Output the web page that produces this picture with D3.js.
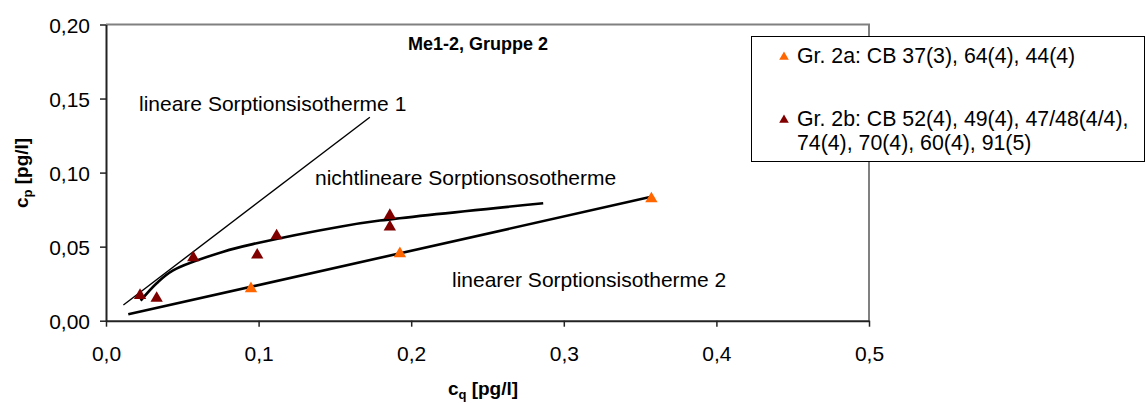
<!DOCTYPE html>
<html><head><meta charset="utf-8">
<script src="https://cdn.jsdelivr.net/npm/d3@7"></script>
<style>
body{margin:0;background:#fff;}
text{font-family:Arial,"Liberation Sans",sans-serif;}
</style></head>
<body><svg id="c" width="1146" height="403"></svg>
<script>
// ---- data ----
const xTicks = [0, 0.1, 0.2, 0.3, 0.4, 0.5];
const yTicks = [0, 0.05, 0.10, 0.15, 0.20];
const grp2aX = [0.095, 0.1926, 0.3574];
const grp2aY = [0.0223, 0.046, 0.083];
const grp2bX = [0.0223, 0.0332, 0.0572, 0.0991, 0.1118, 0.186, 0.186];
const grp2bY = [0.0178, 0.0158, 0.0432, 0.045, 0.058, 0.0718, 0.064];
const lin1X = [0.0114, 0.1729];
const lin1Y = [0.0106, 0.1374];
const lin2X = [0.0146, 0.358];
const lin2Y = [0.0043, 0.0838];
const nonlinX = [0.0227, 0.0332, 0.044, 0.0769, 0.0987, 0.1533, 0.1795, 0.2865];
const nonlinY = [0.0135, 0.0253, 0.034, 0.0466, 0.0523, 0.0635, 0.0676, 0.0793];
const legendLabels = [["Gr. 2a: CB 37(3), 64(4), 44(4)"], ["Gr. 2b: CB 52(4), 49(4), 47/48(4/4),", "74(4), 70(4), 60(4), 91(5)"]];
const colors = ["#FF6600", "#800000"];

const svg = d3.select("#c");
const x = d3.scaleLinear().domain([0, 0.5]).range([106, 869]);
const y = d3.scaleLinear().domain([0, 0.2]).range([320.7, 24.5]);
const fmtX = d => d.toFixed(1).replace(".", ",");
const fmtY = d => d.toFixed(2).replace(".", ",");

// plot border (top/right gray)
svg.append("path").attr("d", `M${x(0)},${y(0.2)}H${x(0.5)}V${y(0)}`)
  .attr("fill", "none").attr("stroke", "#808080").attr("stroke-width", 2);

// axes
const gx = svg.append("g").attr("transform", `translate(0,${y(0)})`)
  .call(d3.axisBottom(x).tickValues(xTicks).tickFormat(fmtX).tickSize(6).tickPadding(19).tickSizeOuter(0));
const gy = svg.append("g").attr("transform", `translate(${x(0)},0)`)
  .call(d3.axisLeft(y).tickValues(yTicks).tickFormat(fmtY).tickSize(6).tickPadding(10).tickSizeOuter(0));
[gx, gy].forEach(g => {
  g.select(".domain").attr("stroke", "#222").attr("stroke-width", 2);
  g.selectAll(".tick line").attr("stroke", "#222").attr("stroke-width", 1.5);
  g.selectAll("text").attr("font-size", 21).attr("fill", "#000").attr("font-family", "Arial, 'Liberation Sans', sans-serif");
});
gx.selectAll("text").attr("dy", "0.71em");
gy.selectAll("text").attr("dy", "0.36em");

// lines
const line = d3.line().x(d => x(d[0])).y(d => y(d[1]));
svg.append("path").datum(lin1X.map((v, i) => [v, lin1Y[i]])).attr("d", line)
  .attr("fill", "none").attr("stroke", "#000").attr("stroke-width", 1.4);
svg.append("path").datum(lin2X.map((v, i) => [v, lin2Y[i]])).attr("d", line)
  .attr("fill", "none").attr("stroke", "#000").attr("stroke-width", 2.6);
svg.append("path").datum(nonlinX.map((v, i) => [v, nonlinY[i]])).attr("d", line.curve(d3.curveCatmullRom))
  .attr("fill", "none").attr("stroke", "#000").attr("stroke-width", 2.6);

// markers
const tri = d3.symbol().type(d3.symbolTriangle).size(66);
function pts(xs, ys, c) {
  svg.append("g").selectAll("path").data(xs.map((v, i) => [v, ys[i]])).join("path")
    .attr("d", tri).attr("transform", d => `translate(${x(d[0])},${y(d[1]) + 1})`).attr("fill", c);
}
pts(grp2bX, grp2bY, colors[1]);
pts(grp2aX, grp2aY, colors[0]);

// annotations
const ann = (t, px, py, opts = {}) => svg.append("text").attr("x", px).attr("y", py).text(t)
  .attr("font-size", opts.size || 21).attr("font-weight", opts.bold ? "bold" : null)
  .attr("text-anchor", opts.anchor || "start");
ann("Me1-2, Gruppe 2", 478, 50, {bold: true, size: 18, anchor: "middle"});
ann("lineare Sorptionsisotherme 1", 139, 111);
ann("nichtlineare Sorptionsosotherme", 315, 185);
ann("linearer Sorptionsisotherme 2", 452, 287);

// axis titles
const xt = svg.append("text").attr("x", 483).attr("y", 395).attr("text-anchor", "middle")
  .attr("font-size", 19).attr("font-weight", "bold");
xt.append("tspan").text("c");
xt.append("tspan").text("q").attr("font-size", 13).attr("dy", 4);
xt.append("tspan").text(" [pg/l]").attr("dy", -4);
const yt = svg.append("text").attr("transform", "translate(28,173) rotate(-90)").attr("text-anchor", "middle")
  .attr("font-size", 19).attr("font-weight", "bold");
yt.append("tspan").text("c");
yt.append("tspan").text("p").attr("font-size", 13).attr("dy", 4);
yt.append("tspan").text(" [pg/l]").attr("dy", -4);

// legend
svg.append("rect").attr("x", 751.5).attr("y", 36.5).attr("width", 393).attr("height", 125)
  .attr("fill", "#fff").attr("stroke", "#000").attr("stroke-width", 1);
const legY = [56, 119];
const ltri = d3.symbol().type(d3.symbolTriangle).size(40);
legendLabels.forEach((lines, i) => {
  svg.append("path").attr("d", ltri).attr("transform", `translate(784,${legY[i] + 1})`).attr("fill", colors[i]);
  lines.forEach((l, j) => {
    svg.append("text").attr("x", 797).attr("y", legY[i] + 7 + j * 24).text(l).attr("font-size", 21.3);
  });
});
</script></body></html>
